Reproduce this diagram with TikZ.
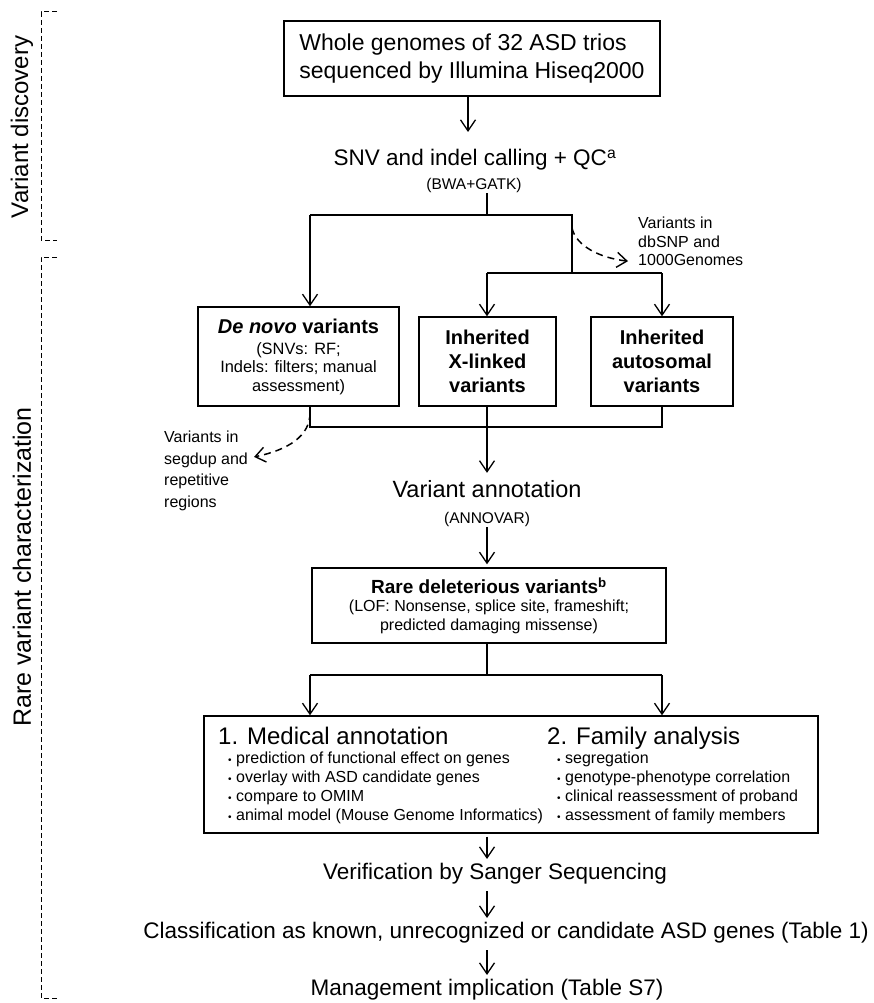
\documentclass[tikz,border=0pt]{standalone}
\usepackage{fontspec}
\setmainfont{Liberation Sans}
\usetikzlibrary{arrows.meta,positioning}

\newcommand{\fs}[2]{\fontsize{#1}{#2}\selectfont}
\newcommand{\bul}{{\fs{10}{10}\textbullet}\ }

\tikzset{
  frame/.style={draw, line width=1.4pt, align=center, inner sep=0pt},
  conn/.style={line width=1.3pt},
  arr/.style={conn, -{Straight Barb[length=11pt,width=15pt,line width=1.3pt]}},
  darr/.style={conn, line width=1.5pt, dash pattern=on 7pt off 5pt, -{Straight Barb[length=10pt,width=15pt,line width=1.4pt]}},
  bracket/.style={line width=1pt, dash pattern=on 5pt off 3pt},
  sidenote/.style={font=\fs{16}{18.5}, align=left, inner sep=0pt},
}

\begin{document}
\begin{tikzpicture}[x=1pt, y=-1pt]
  \useasboundingbox (0,0) rectangle (874,1003);

  % phase brackets
  \draw[bracket] (57,12) -- (41,12) -- (41,240) -- (57,240);
  \draw[bracket] (57,257) -- (41,257) -- (41,998) -- (57,998);
  \node[font=\fs{24}{28}, rotate=90] (phase1) at (22,127) {Variant discovery};
  \node[font=\fs{25}{29}, rotate=90] (phase2) at (22,567) {Rare variant characterization};

  % variant discovery
  \node[frame, align=left, minimum width=376pt, minimum height=75pt, font=\fs{23}{28}] (genome) at (472,58.5)
    {Whole genomes of 32 ASD trios\\sequenced by Illumina Hiseq2000};
  \node[font=\fs{22.5}{27}] (snv) at (475,160) {SNV and indel calling + QC\textsuperscript{a}};
  \node[font=\fs{15.5}{18}, inner sep=1pt] (bwa) at (474,185) {(BWA+GATK)};
  \draw[arr, shorten >=14pt] ([xshift=-4pt]genome.south) -- ([xshift=-4pt]genome.south |- snv.north);

  % three variant classes
  \node[frame, minimum width=201pt, minimum height=99pt, font=\fs{16.4}{18.5}] (denovo) at (298.5,356.5)
    {{\fs{20}{24}\bfseries\textit{De novo} variants}\\[2.5pt](SNVs: RF;\\Indels: filters; manual\\assessment)};
  \node[frame, minimum width=137pt, minimum height=89pt, font=\fs{20}{24}\bfseries] (xlinked) at (487.5,361.5)
    {Inherited\\X-linked\\variants};
  \node[frame, minimum width=142pt, minimum height=89pt, font=\fs{20}{24}\bfseries] (autosomal) at (662,361.5)
    {Inherited\\autosomal\\variants};
  \node[sidenote, anchor=north west] (dbsnp) at (638,217) {Variants in\\dbSNP and\\1000Genomes};

  \coordinate (split) at (487,215);
  \coordinate (splitL) at (310,215);
  \coordinate (splitR) at (572,215);
  \coordinate (inh) at (572,273);
  \coordinate (inhL) at (487,273);
  \coordinate (inhR) at (662,273);
  \coordinate (dbfrom) at (572,228);
  \draw[conn] (bwa.south -| split) -- (split);
  \draw[conn] (splitL) -- (splitR) -- (inh);
  \draw[arr] (splitL) -- (denovo.north -| splitL);
  \draw[conn] (inhL) -- (inhR);
  \draw[arr] (inhL) -- (xlinked.north -| inhL);
  \draw[arr] (inhR) -- (autosomal.north);
  \draw[darr] (dbfrom) .. controls (576,246) and (600,258) .. ([xshift=-10pt,yshift=5pt]dbsnp.south west);

  % merge and annotation
  \node[font=\fs{23.5}{28}] (annot) at (487,489) {Variant annotation};
  \node[font=\fs{15.5}{18}, inner sep=1pt] (annovar) at (487,519) {(ANNOVAR)};
  \node[sidenote, font=\fs{16}{21.5}, anchor=north west] (segdup) at (164,431) {Variants in\\segdup and\\repetitive\\regions};

  \coordinate (mergeL) at (310,427);
  \coordinate (mergeM) at (487,427);
  \coordinate (mergeR) at (662,427);
  \coordinate (sgfrom) at (310,413);
  \draw[conn] (denovo.south -| mergeL) -- (mergeL) -- (mergeR) -- (autosomal.south);
  \draw[arr, shorten >=4pt] (xlinked.south -| mergeM) -- (annot.north -| mergeM);
  \draw[darr] (sgfrom) .. controls (310,436) and (288,450) .. ([xshift=6pt,yshift=14pt]segdup.east);

  % rare variants
  \node[frame, minimum width=354pt, minimum height=75pt, font=\fs{16}{18.5}] (rare) at (489,605.5)
    {{\fs{19}{22}\bfseries Rare deleterious variants\textsuperscript{b}}\\(LOF: Nonsense, splice site, frameshift;\\predicted damaging missense)};
  \draw[arr, shorten >=3pt] (annovar.south) -- (annovar.south |- rare.north);

  % follow-up box
  \node[frame, minimum width=614pt, minimum height=117pt] (followup) at (511,774.5) {};
  \node[font=\fs{24}{28}, anchor=north west, inner sep=0pt] (medh) at (218,727) {1. Medical annotation};
  \node[font=\fs{16}{19}, align=left, anchor=north west, inner sep=0pt] (medl) at (228,752)
    {\bul prediction of functional effect on genes\\\bul overlay with ASD candidate genes\\\bul compare to OMIM\\\bul animal model (Mouse Genome Informatics)};
  \node[font=\fs{24}{28}, anchor=north west, inner sep=0pt] (famh) at (547,727) {2. Family analysis};
  \node[font=\fs{16}{19}, align=left, anchor=north west, inner sep=0pt] (faml) at (557,752)
    {\bul segregation\\\bul genotype-phenotype correlation\\\bul clinical reassessment of proband\\\bul assessment of family members};

  \coordinate (fork) at (487,675);
  \coordinate (forkL) at (310,675);
  \coordinate (forkR) at (662,675);
  \draw[conn] (rare.south -| fork) -- (fork);
  \draw[conn] (forkL) -- (forkR);
  \draw[arr] (forkL) -- (followup.north -| forkL);
  \draw[arr] (forkR) -- (followup.north -| forkR);

  % outcome
  \node[font=\fs{22.5}{27}] (verif) at (495,874) {Verification by Sanger Sequencing};
  \node[font=\fs{22.5}{27}] (classif) at (506,933) {Classification as known, unrecognized or candidate ASD genes (Table 1)};
  \node[font=\fs{22.5}{27}] (manage) at (487,990) {Management implication (Table S7)};
  \draw[arr, shorten <=3pt, shorten >=1pt] (followup.south -| fork) -- (verif.north -| fork);
  \draw[arr, shorten <=3pt, shorten >=1pt] (verif.south -| fork) -- (classif.north -| fork);
  \draw[arr, shorten <=3pt, shorten >=1pt] (classif.south -| fork) -- (manage.north -| fork);
\end{tikzpicture}
\end{document}
